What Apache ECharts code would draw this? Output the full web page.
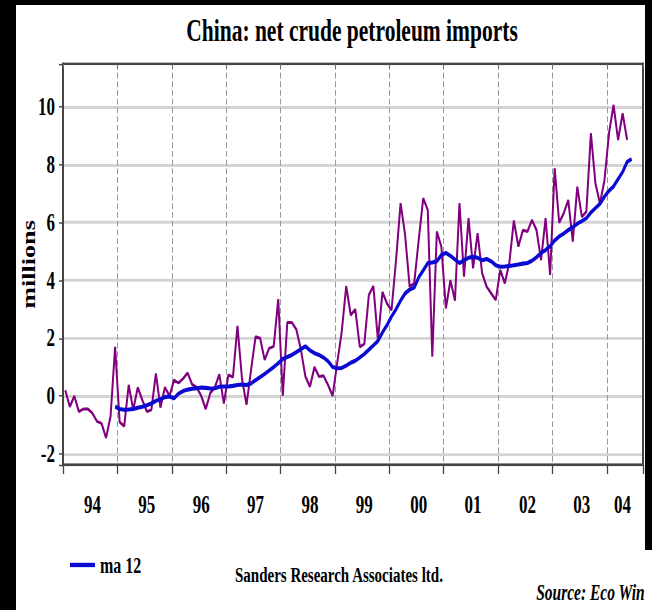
<!DOCTYPE html>
<html>
<head>
<meta charset="utf-8">
<script src="https://cdn.jsdelivr.net/npm/echarts@6/dist/echarts.min.js"></script>
<style>
  html, body { margin: 0; padding: 0; background: #000; width: 652px; height: 610px; overflow: hidden; }
  #panel  { position: absolute; left: 16px; top: 5px; width: 629px; height: 605px; background: #fff; }
  #panel2 { position: absolute; left: 520px; top: 550px; width: 132px; height: 60px; background: #fff; }
  /* the original picture is stretched vertically; draw at 420px high and stretch */
  #chart  { position: absolute; left: 0; top: 0; width: 652px; height: 420px;
            transform: scaleY(1.452381); transform-origin: 0 0; }
</style>
</head>
<body>
<div id="panel"></div>
<div id="panel2"></div>
<div id="chart"></div>
<script>
// ---------- data (monthly, Jan 1994 onward, millions) ----------
const startYear = 1994;
const monthCount = 128; // Jan 1994 .. Aug 2004 (axis span)
const months = [];
for (let i = 0; i < monthCount; i++) {
  const y = startYear + Math.floor(i / 12);
  const m = (i % 12) + 1;
  months.push(y + '-' + (m < 10 ? '0' + m : '' + m));
}

// net crude petroleum imports, Jan 1994 .. May 2004
const netImports = [
  0.2, -0.37, 0.0, -0.54, -0.45, -0.45, -0.6, -0.88, -0.95, -1.45, -0.7, 1.7,
  -0.9, -1.05, 0.38, -0.48, 0.3, -0.14, -0.54, -0.48, 0.78, -0.4, 0.3, 0.0,
  0.55, 0.45, 0.6, 0.8, 0.4, 0.3, 0.0, -0.45, 0.1, 0.3, 0.75, -0.26,
  0.73, 0.65, 2.42, 0.6, -0.3, 0.9, 2.05, 2.0, 1.25, 1.65, 1.72, 3.35,
  0.0, 2.54, 2.54, 2.3, 1.6, 0.67, 0.32, 1.0, 0.67, 0.7, 0.38, 0.0,
  1.13, 2.2, 3.8, 2.8, 3.0, 1.7, 1.8, 3.5, 3.8, 1.93, 3.6, 3.2,
  2.97, 4.7, 6.67, 5.57, 3.78, 3.9, 5.4, 6.84, 6.44, 1.36, 5.69, 5.17,
  3.03, 4.0, 3.3, 6.67, 4.13, 6.15, 4.42, 5.63, 4.24, 3.78, 3.55, 3.32,
  4.36, 3.9, 4.6, 6.07, 5.17, 5.74, 5.69, 6.09, 5.74, 4.7, 6.15, 4.19,
  7.88, 6.0, 6.32, 6.78, 5.34, 7.24, 6.2, 6.38, 9.09, 7.36, 6.66, 7.47,
  9.09, 10.07, 8.86, 9.78, 8.86
];

// 12-month moving average as drawn, Dec 1994 .. Jun 2004
const ma12StartIndex = 11;
const ma12 = [
  -0.37,
  -0.45, -0.48, -0.47, -0.45, -0.41, -0.37, -0.32, -0.26, -0.17, -0.11, -0.04, -0.02,
  -0.08, 0.08, 0.17, 0.22, 0.25, 0.27, 0.29, 0.28, 0.26, 0.27, 0.32, 0.33,
  0.33, 0.35, 0.38, 0.4, 0.38, 0.43, 0.55, 0.65, 0.76, 0.88, 1.0, 1.13,
  1.28, 1.35, 1.42, 1.52, 1.62, 1.72, 1.58, 1.48, 1.42, 1.33, 1.2, 1.0,
  0.96, 0.97, 1.05, 1.15, 1.22, 1.33, 1.45, 1.6, 1.75, 1.9, 2.2, 2.45,
  2.75, 3.0, 3.3, 3.55, 3.68, 3.75, 4.1, 4.35, 4.6, 4.62, 4.66, 4.88,
  4.95, 4.85, 4.72, 4.6, 4.7, 4.78, 4.82, 4.78, 4.7, 4.74, 4.66, 4.52,
  4.47, 4.48, 4.5, 4.52, 4.55, 4.58, 4.6, 4.68, 4.8, 4.95, 5.05, 5.18,
  5.38, 5.52, 5.62, 5.74, 5.84, 5.96, 6.05, 6.15, 6.35, 6.5, 6.65, 6.9,
  7.1, 7.25, 7.5, 7.75, 8.1, 8.2
];

const yMin = -2.39, yMax = 11.49, yStep = 2;
const yearLabels = ['94','95','96','97','98','99','00','01','02','03','04'];

// ---------- chart ----------
const serif = 'Liberation Serif';
const frame = '#444';
const isYearStart = (i) => i % 12 === 0;
const lastYearStart = (yearLabels.length - 1) * 12;
const isLabelIdx = (i) => (i < lastYearStart ? i % 12 === 6 : i === Math.floor((lastYearStart + monthCount - 1) / 2));

const ma12Series = new Array(ma12StartIndex).fill(null).concat(ma12);

const chart = echarts.init(document.getElementById('chart'), null, { renderer: 'svg' });
chart.setOption({
  animation: false,
  backgroundColor: 'transparent',
  title: [
    { text: 'China: net crude petroleum imports', left: 352, top: 10, textAlign: 'center', padding: 0,
      textStyle: { fontFamily: serif, fontWeight: 'bold', fontSize: 21.5, color: '#000' } },
    { text: 'Sanders Research Associates ltd.', left: 235, top: 388, padding: 0,
      textStyle: { fontFamily: serif, fontWeight: 'bold', fontSize: 15, color: '#000' } },
    { text: 'Source: Eco Win', right: 7, top: 400, padding: 0,
      textStyle: { fontFamily: serif, fontWeight: 'bold', fontStyle: 'italic', fontSize: 15.5, color: '#000' } }
  ],
  legend: {
    data: ['ma 12'], left: 70, top: 381, padding: 0, icon: 'rect', itemWidth: 25, itemHeight: 3,
    textStyle: { fontFamily: serif, fontWeight: 'bold', fontSize: 16, color: '#000' }
  },
  grid: { left: 63, right: 9, top: 44, bottom: 99.8, show: false },
  xAxis: [
    {
      type: 'category', data: months, boundaryGap: true, position: 'bottom',
      axisLine: { show: true, onZero: false, lineStyle: { color: frame, width: 1.6 } },
      axisTick: { show: true, inside: false, length: 6.2, interval: isYearStart, lineStyle: { color: frame, width: 1.3 } },
      axisLabel: { interval: isLabelIdx, formatter: (v) => v.slice(2, 4), margin: 19,
        fontFamily: serif, fontWeight: 'bold', fontSize: 17, color: '#000' },
      splitLine: { show: true, interval: isYearStart, lineStyle: { color: '#999', type: 'dashed', width: 1 } }
    },
    {
      type: 'category', data: months, boundaryGap: true, position: 'top',
      axisLine: { show: true, onZero: false, lineStyle: { color: frame, width: 1.6 } },
      axisTick: { show: true, inside: true, length: 3.4, interval: isYearStart, lineStyle: { color: '#666', width: 1 } },
      axisLabel: { show: false }, splitLine: { show: false }
    }
  ],
  yAxis: [
    {
      type: 'value', min: yMin, max: yMax, minInterval: yStep, maxInterval: yStep, position: 'left',
      axisLine: { show: true, onZero: false, lineStyle: { color: frame, width: 2 } },
      axisTick: { show: true, length: 4, lineStyle: { color: frame, width: 1 } },
      axisLabel: {
        margin: 8, fontFamily: serif, fontWeight: 'bold', fontSize: 17, color: '#000',
        formatter: (v) => (Math.abs(v / yStep - Math.round(v / yStep)) < 1e-6 ? String(Math.round(v)) : '')
      },
      splitLine: { show: true, lineStyle: { color: '#d4d4d4', type: 'solid', width: 2 } },
      name: 'millions', nameLocation: 'middle', nameRotate: 90, nameGap: 25, nameMoveOverlap: false,
      nameTextStyle: { fontFamily: serif, fontWeight: 'bold', fontSize: 18, color: '#000' }
    },
    {
      type: 'value', min: yMin, max: yMax, position: 'right',
      axisLine: { show: true, onZero: false, lineStyle: { color: frame, width: 2 } },
      axisTick: { show: false }, axisLabel: { show: false }, splitLine: { show: false }
    }
  ],
  series: [
    { name: 'net imports', type: 'line', data: netImports, symbol: 'none',
      lineStyle: { color: '#800080', width: 2 }, itemStyle: { color: '#800080' }, z: 2 },
    { name: 'ma 12', type: 'line', data: ma12Series, symbol: 'none',
      lineStyle: { color: '#0a0ad2', width: 2.8 }, itemStyle: { color: '#0a0ad2' }, z: 3 }
  ]
});
</script>
</body>
</html>
